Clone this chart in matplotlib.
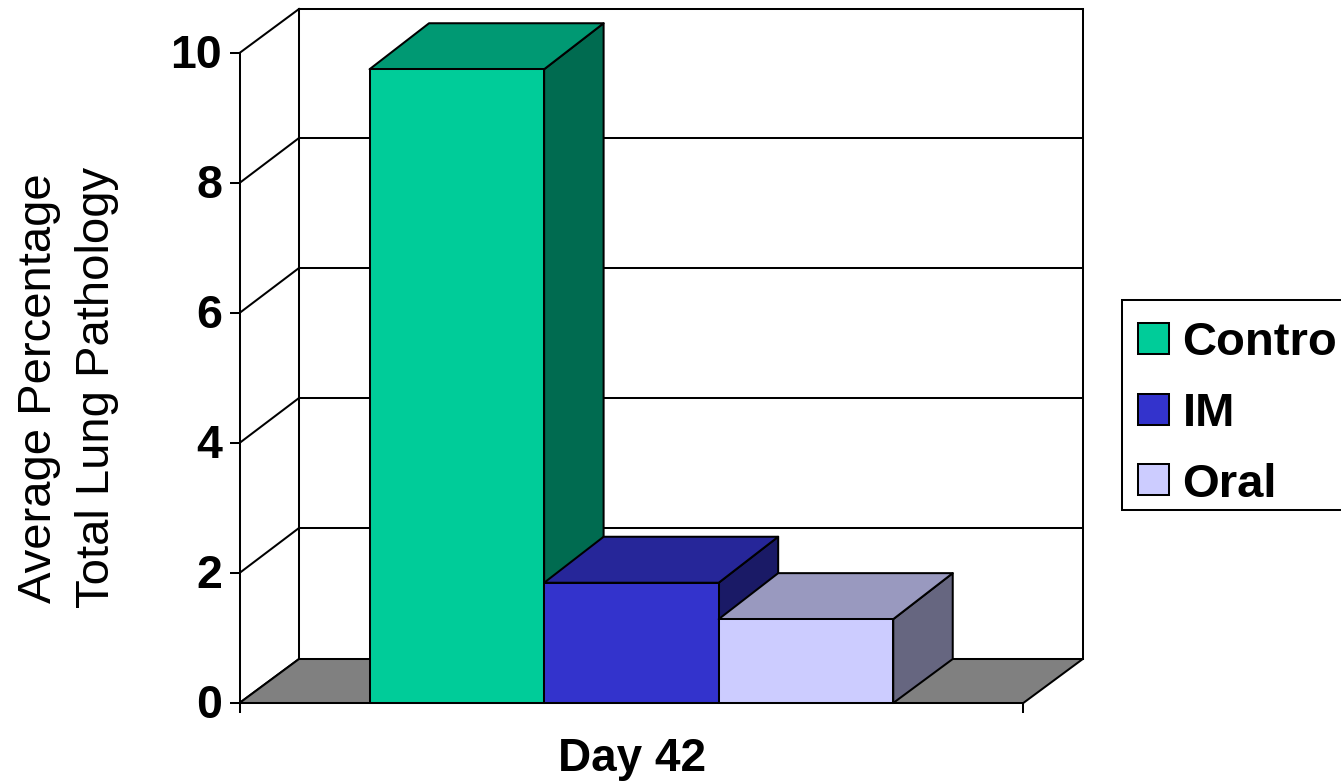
import matplotlib
matplotlib.use("Agg")
import matplotlib.pyplot as plt
from matplotlib.patches import Polygon, Rectangle
from matplotlib.transforms import ScaledTranslation

plt.rcParams['font.family'] = ['Liberation Sans', 'DejaVu Sans']

# Data
# The reference's legend reads "Contro": its last letter does not appear in the picture.
categories = ["Contro", "IM", "Oral"]
values = [9.75, 1.85, 1.29]
group_label = "Day 42"
y_ticks = [0, 2, 4, 6, 8, 10]
y_title = "Average Percentage\nTotal Lung Pathology"

# Styles
front_colors = ["#00CC99", "#3333CC", "#CCCCFF"]
top_colors = ["#009973", "#262699", "#9999BF"]
side_colors = ["#006B50", "#1A1A66", "#666680"]
floor_color = "#808080"
W, H, DPI = 1341, 782, 100
LW = 1.45

fig = plt.figure(figsize=(W / DPI, H / DPI), dpi=DPI, facecolor="white")
ax = fig.add_axes([239.5 / W, (H - 703) / H, 783.8 / W, 650 / H])
XMIN, XMAX = -2.245, 2.245
ax.set_xlim(XMIN, XMAX)
ax.set_ylim(0, 10)
ax.patch.set_visible(False)

# Oblique depth of the 3D box, in data units
dx = 59.5 / 174.6
dy_floor = 44 / 65
dy_grid = 45 / 65
dy_bar = 46 / 65


def poly(points, color, z):
    ax.add_patch(Polygon(points, closed=True, facecolor=color, edgecolor="black",
                         linewidth=LW, joinstyle="round", clip_on=False, zorder=z))


def seg(xs, ys, z=1.0):
    ax.plot(xs, ys, color="black", lw=LW, clip_on=False, zorder=z, solid_capstyle="projecting")


# Floor and walls
poly([(XMIN, 0), (XMIN + dx, dy_floor), (XMAX + dx, dy_floor), (XMAX, 0)], floor_color, 1.1)
for t in y_ticks:
    d = dy_floor if t in (y_ticks[0], y_ticks[-1]) else dy_grid
    seg([XMIN, XMIN + dx], [t, t + d])
    seg([XMIN + dx, XMAX + dx], [t + d, t + d])
seg([XMIN + dx, XMIN + dx], [dy_floor, 10 + dy_floor])
seg([XMAX + dx, XMAX + dx], [dy_floor, 10 + dy_floor])

# Bars
positions = range(-1, len(categories) - 1)
for i, (p, v) in enumerate(zip(positions, values)):
    x0, x1 = p - 0.5, p + 0.5
    z = 2 + i * 0.1
    poly([(x1, 0), (x1 + dx, dy_floor), (x1 + dx, v + dy_bar), (x1, v)], side_colors[i], z)
    poly([(x0, v), (x0 + dx, v + dy_bar), (x1 + dx, v + dy_bar), (x1, v)], top_colors[i], z)
    poly([(x0, 0), (x0, v), (x1, v), (x1, 0)], front_colors[i], z)

# Axes
for s in ("top", "right"):
    ax.spines[s].set_visible(False)
for s in ("left", "bottom"):
    ax.spines[s].set_linewidth(LW)
    ax.spines[s].set_zorder(3)
ax.set_yticks(y_ticks)
ax.set_yticklabels([str(t) for t in y_ticks], fontsize=33.5, fontweight="bold", va="center_baseline")
ax.tick_params(axis="y", length=7.5, width=LW, pad=5)
lift = ScaledTranslation(0, 2 / DPI, fig.dpi_scale_trans)
for lab in ax.get_yticklabels():
    lab.set_transform(lab.get_transform() + lift)
ax.set_xticks([XMIN, XMAX])
ax.set_xticklabels(["", ""])
ax.tick_params(axis="x", length=7.5, width=LW)
ax.set_xlabel(group_label, fontsize=33, fontweight="bold", labelpad=13.5, x=0.501)
ax.set_ylabel(y_title, fontsize=34, labelpad=37, linespacing=1.41, y=0.485)


# Legend, placed in figure pixels so that its box runs past the right edge as in the source
def fx(px):
    return px / W


def fy(py):
    return (H - py) / H


fig.add_artist(Rectangle((fx(1122.3), fy(510)), fx(260), 210 / H, transform=fig.transFigure,
                         facecolor="white", edgecolor="black", linewidth=LW))
swatch_tops = [323.3, 394, 464]
baselines = [355, 426.5, 497]
for name, color, top, base in zip(categories, front_colors, swatch_tops, baselines):
    fig.add_artist(Rectangle((fx(1138), fy(top + 31)), fx(30.5), 31 / H, transform=fig.transFigure,
                             facecolor=color, edgecolor="black", linewidth=LW))
    fig.text(fx(1182.5), fy(base), name, fontsize=34, fontweight="bold", va="baseline", ha="left")

fig.savefig("out.png", dpi=DPI)
